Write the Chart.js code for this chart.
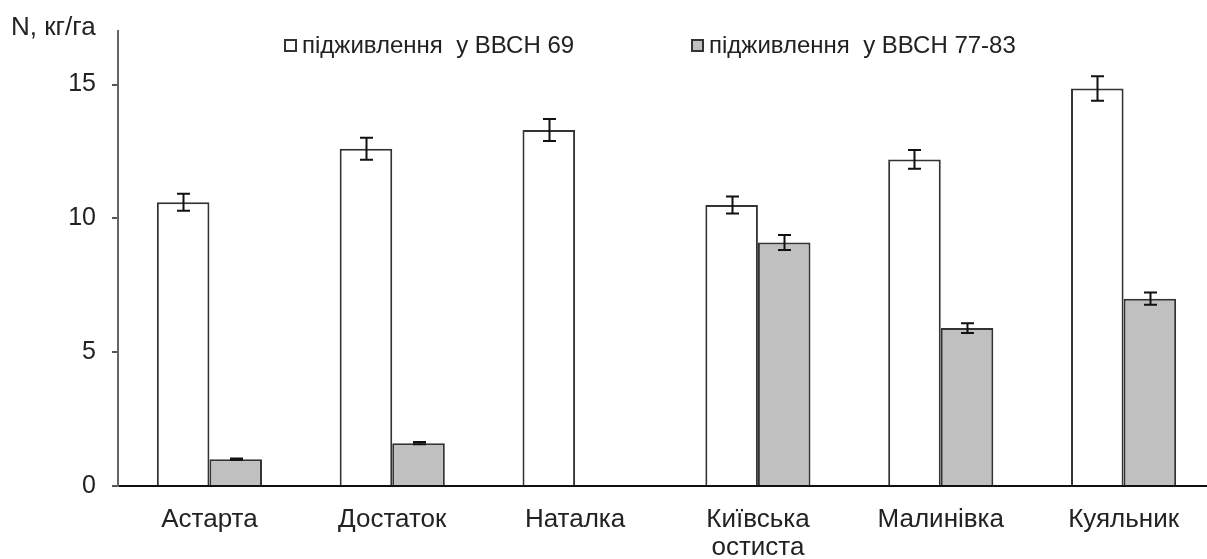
<!DOCTYPE html>
<html>
<head>
<meta charset="utf-8">
<script src="https://cdn.jsdelivr.net/npm/chart.js@4"></script>
<style>
  html, body { margin: 0; padding: 0; background: #fff; overflow: hidden; }
  #wrap { width: 1220px; height: 559px; }
</style>
</head>
<body>
<div id="wrap"><canvas id="c" width="1220" height="559"></canvas></div>
<script>
// Varieties (x categories)
const categories = ['Астарта', 'Достаток', 'Наталка', ['Київська', 'остиста'], 'Малинівка', 'Куяльник'];

// Nitrogen, kg/ha — top dressing at BBCH 69
const bbch69 = [10.6, 12.6, 13.3, 10.5, 12.2, 14.85];
const bbch69Err = [0.32, 0.41, 0.41, 0.32, 0.35, 0.46];

// Nitrogen, kg/ha — top dressing at BBCH 77-83
const bbch7783 = [1.0, 1.6, null, 9.1, 5.9, 7.0];
const bbch7783Err = [0.03, 0.04, null, 0.28, 0.18, 0.23];

// Y axis ticks
const yTicks = [0, 5, 10, 15];

const seriesLabels = ['підживлення  у ВВСН 69', 'підживлення  у ВВСН 77-83'];
const errs = [bbch69Err, bbch7783Err];

const FONT = '"Liberation Sans", Arial, sans-serif';
const TEXT = '#222222';

const errorBars = {
  id: 'errorBars',
  afterDatasetsDraw(chart) {
    const ctx = chart.ctx;
    const y = chart.scales.y;
    ctx.save();
    ctx.strokeStyle = '#111';
    ctx.lineWidth = 2;
    chart.data.datasets.forEach((ds, di) => {
      const meta = chart.getDatasetMeta(di);
      ds.data.forEach((v, i) => {
        const e = errs[di][i];
        if (v == null || e == null) return;
        const x = Math.round(meta.data[i].x) + 0.5;
        const yt = y.getPixelForValue(v + e);
        const yb = y.getPixelForValue(v - e);
        ctx.beginPath();
        ctx.moveTo(x, yt); ctx.lineTo(x, yb);
        ctx.moveTo(x - 6.5, yt); ctx.lineTo(x + 6.5, yt);
        ctx.moveTo(x - 6.5, yb); ctx.lineTo(x + 6.5, yb);
        ctx.stroke();
      });
    });
    ctx.restore();
  }
};

const annotations = {
  id: 'annotations',
  afterDraw(chart) {
    const ctx = chart.ctx;
    ctx.save();
    ctx.fillStyle = TEXT;
    ctx.textBaseline = 'middle';
    ctx.textAlign = 'left';
    // axis title
    ctx.font = '26px ' + FONT;
    ctx.fillText('N, кг/га', 11, 28);
    // legend
    const items = [
      { x: 285, fill: '#ffffff', text: seriesLabels[0] },
      { x: 692, fill: '#c0c0c0', text: seriesLabels[1] }
    ];
    ctx.font = '24px ' + FONT;
    items.forEach(it => {
      ctx.fillStyle = it.fill;
      ctx.fillRect(it.x, 40, 11, 11);
      ctx.strokeStyle = '#333';
      ctx.lineWidth = 2;
      ctx.strokeRect(it.x, 40, 11, 11);
      ctx.fillStyle = TEXT;
      ctx.fillText(it.text, it.x + 17, 46);
    });
    ctx.restore();
  }
};

new Chart(document.getElementById('c'), {
  type: 'bar',
  data: {
    labels: categories,
    datasets: [
      {
        label: seriesLabels[0],
        data: bbch69,
        backgroundColor: '#ffffff',
        borderColor: '#333333',
        borderWidth: 2,
        borderSkipped: 'bottom'
      },
      {
        label: seriesLabels[1],
        data: bbch7783,
        backgroundColor: '#c0c0c0',
        borderColor: '#333333',
        borderWidth: 2,
        borderSkipped: 'bottom'
      }
    ]
  },
  options: {
    responsive: false,
    animation: false,
    layout: { padding: { top: 27, left: 0, right: 5, bottom: 0 } },
    datasets: { bar: { categoryPercentage: 0.575, barPercentage: 1.0 } },
    plugins: { legend: { display: false }, tooltip: { enabled: false } },
    scales: {
      x: {
        grid: { display: false, drawTicks: false },
        border: { display: true, color: '#111', width: 2 },
        ticks: { color: TEXT, font: { family: FONT, size: 26, lineHeight: 1.08 }, padding: 20, maxRotation: 0, autoSkip: false },
        afterFit(s) { s.height = 73; }
      },
      y: {
        min: 0,
        max: 17,
        afterBuildTicks(s) { s.ticks = yTicks.map(v => ({ value: v })); },
        grid: { drawOnChartArea: false, drawTicks: true, tickLength: 6, color: '#555', lineWidth: 2 },
        border: { display: true, color: '#666', width: 2 },
        ticks: { color: TEXT, font: { family: FONT, size: 25 }, padding: 16 },
        afterFit(s) { s.width = 118; }
      }
    }
  },
  plugins: [errorBars, annotations]
});
</script>
</body>
</html>
